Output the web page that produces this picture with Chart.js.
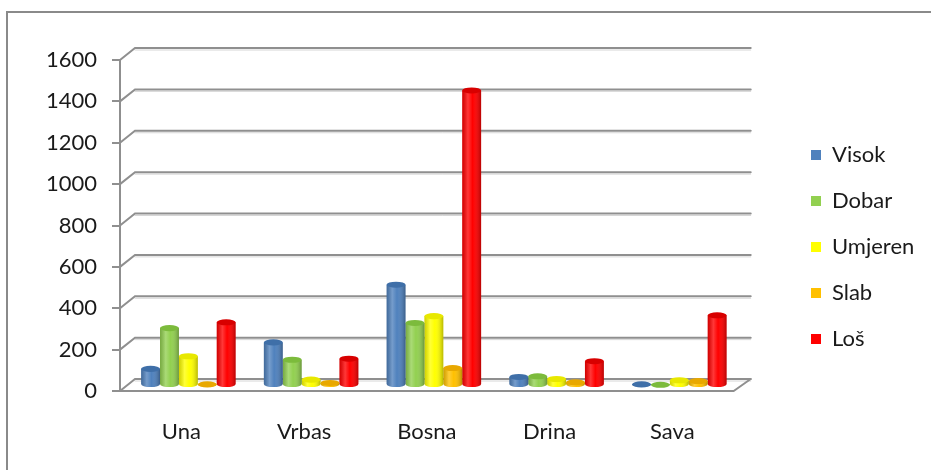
<!DOCTYPE html>
<html>
<head>
<meta charset="utf-8">
<script src="https://cdn.jsdelivr.net/npm/chart.js@4.4.1/dist/chart.umd.min.js"></script>
<style>
  html, body { margin: 0; padding: 0; background: #fff; }
  #wrap { width: 931px; height: 470px; position: relative; }
</style>
</head>
<body>
<div id="wrap"><canvas id="rivers"></canvas></div>
<script>
// podaci procitani sa slike
const categories = ['Una', 'Vrbas', 'Bosna', 'Drina', 'Sava'];
const visok   = [78, 206, 485, 39, 3];
const dobar   = [275, 122, 300, 42, 1];
const umjeren = [139, 26, 333, 29, 23];
const slab    = [3, 10, 82, 13, 19];
const los     = [303, 127, 1424, 115, 337];
const yMax = 1600;
const yStep = 200;

const seriesNames = ['Visok', 'Dobar', 'Umjeren', 'Slab', 'Loš'];
const seriesData = [visok, dobar, umjeren, slab, los];
const colors = ['#4F81BD', '#92D050', '#FFFF00', '#FFC000', '#FF0000'];
const topColors = ['#3f6fa8', '#7cbb3c', '#e8e800', '#e8a800', '#d80000'];

const font = "Lato, 'Open Sans', sans-serif";
const gridCol = '#8f8f8f';
const DX = 15, DX_R = 17, DY = 12;     // pomak zadnjeg zida (3D)
const BAR_DX = 7, BAR_DY = 6;          // stubovi su na sredini dubine

// okvir, zadnji zid i pod
const wallPlugin = {
  id: 'wall',
  beforeDraw(chart) {
    const ctx = chart.ctx;
    ctx.save();
    ctx.strokeStyle = '#8a8a8a';
    ctx.lineWidth = 2;
    ctx.beginPath();
    ctx.moveTo(7, 470); ctx.lineTo(7, 12); ctx.lineTo(931, 12);
    ctx.stroke();
    ctx.restore();
  },
  afterLayout(chart) {
    // legenda malo udesno i na pravu visinu
    const lg = chart.legend;
    const shiftX = 787 - lg.left;
    lg.left += shiftX; lg.right += shiftX;
    const shiftY = 120 - lg.top;
    lg.top += shiftY; lg.bottom += shiftY;
  },
  beforeDatasetsDraw(chart) {
    const ctx = chart.ctx;
    const a = chart.chartArea;
    const ys = chart.scales.y;
    ctx.save();
    ctx.lineCap = 'round';
    for (let v = 0; v <= yMax; v += yStep) {
      const yf = ys.getPixelForValue(v);
      const yb = yf - DY;
      ctx.strokeStyle = '#d6d6d6';
      ctx.lineWidth = 1;
      ctx.beginPath();
      ctx.moveTo(a.left + DX, yb + 2); ctx.lineTo(a.right + DX_R, yb + 2);
      ctx.stroke();
      ctx.strokeStyle = gridCol;
      ctx.lineWidth = 2;
      ctx.beginPath();
      ctx.moveTo(a.left, yf); ctx.lineTo(a.left + DX, yb); ctx.lineTo(a.right + DX_R, yb);
      ctx.stroke();
    }
    // desna ivica poda
    const y0 = ys.getPixelForValue(0);
    ctx.beginPath();
    ctx.moveTo(a.right, y0); ctx.lineTo(a.right + DX_R, y0 - DY);
    ctx.stroke();
    ctx.restore();

    ctx.save();
    ctx.translate(BAR_DX, -BAR_DY);
  },
  afterDatasetsDraw(chart) {
    const ctx = chart.ctx;
    chart.data.datasets.forEach((ds, i) => {
      const meta = chart.getDatasetMeta(i);
      meta.data.forEach(bar => {
        const p = bar.getProps(['x', 'y', 'base', 'width'], true);
        const w = p.width, l = p.x - w / 2, r = p.x + w / 2;
        const ry = w * 0.16;
        const g = ctx.createLinearGradient(l, 0, r, 0);
        g.addColorStop(0, 'rgba(0,0,0,0.18)');
        g.addColorStop(0.3, 'rgba(255,255,255,0.22)');
        g.addColorStop(0.55, 'rgba(255,255,255,0)');
        g.addColorStop(1, 'rgba(0,0,0,0.28)');
        // donja polu-elipsa
        ctx.fillStyle = colors[i];
        ctx.beginPath();
        ctx.ellipse(p.x, p.base, w / 2, ry, 0, 0, Math.PI);
        ctx.fill();
        ctx.fillStyle = g;
        ctx.beginPath();
        ctx.moveTo(l, p.y);
        ctx.lineTo(l, p.base);
        ctx.ellipse(p.x, p.base, w / 2, ry, 0, Math.PI, 0, true);
        ctx.lineTo(r, p.y);
        ctx.closePath();
        ctx.fill();
        // gornja elipsa
        ctx.fillStyle = topColors[i];
        ctx.beginPath();
        ctx.ellipse(p.x, p.y, w / 2, ry, 0, 0, Math.PI * 2);
        ctx.fill();
      });
    });
    ctx.restore();
  }
};

const datasets = seriesNames.map((name, i) => ({
  label: name,
  data: seriesData[i],
  backgroundColor: colors[i],
  borderWidth: 0,
  barPercentage: 1,
  categoryPercentage: 0.77
}));

new Chart(document.getElementById('rivers'), {
  type: 'bar',
  data: { labels: categories, datasets: datasets },
  plugins: [wallPlugin],
  options: {
    responsive: true,
    maintainAspectRatio: false,
    animation: false,
    layout: { padding: { left: 46, top: 60, right: 60, bottom: 24 } },
    plugins: {
      tooltip: { enabled: false },
      legend: {
        position: 'right',
        align: 'start',
        labels: {
          boxWidth: 10,
          boxHeight: 10,
          padding: 24,
          color: '#1a1a1a',
          font: { family: font, size: 22 }
        }
      }
    },
    scales: {
      x: {
        afterFit(scale) { scale.height = 55; },
        grid: { display: false, drawTicks: false },
        border: { display: true, color: gridCol, width: 2 },
        ticks: { color: '#1a1a1a', padding: 28, font: { family: font, size: 22 } }
      },
      y: {
        min: 0,
        max: yMax,
        afterFit(scale) { scale.width = 74; },
        ticks: {
          stepSize: yStep,
          color: '#1a1a1a',
          padding: 15,
          font: { family: font, size: 22 },
          callback: v => String(v)
        },
        grid: { drawOnChartArea: false, tickLength: 8, color: gridCol, lineWidth: 2 },
        border: { display: true, color: gridCol, width: 2 }
      }
    }
  }
});
</script>
</body>
</html>
